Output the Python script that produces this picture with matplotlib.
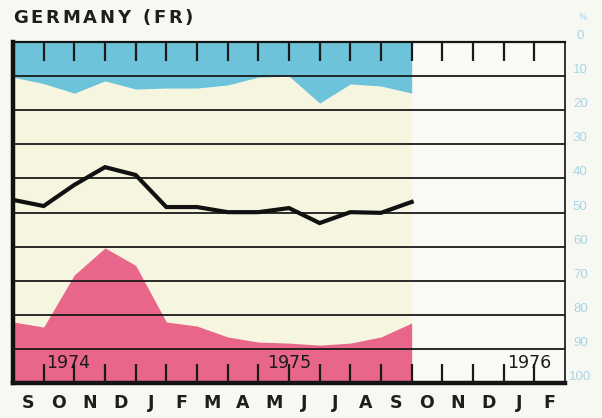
import matplotlib
matplotlib.use('Agg')
import matplotlib.pyplot as plt
import numpy as np

# ---- data ----
months = ['S', 'O', 'N', 'D', 'J', 'F', 'M', 'A', 'M', 'J', 'J', 'A', 'S', 'O', 'N', 'D', 'J', 'F']
years = ['1974', '1975', '1976']
year_pos = [1.08, 8.3, 16.12]
pct_ticks = [0, 10, 20, 30, 40, 50, 60, 70, 80, 90, 100]
pct_labels = [str(v) for v in pct_ticks]

# monthly values, Sep 1974 .. Sep 1975 boundaries (percent, 0 at top)
blue_edge = [10.3, 12.2, 15.0, 11.4, 13.8, 13.5, 13.5, 12.6, 10.3, 10.0, 17.9, 12.3, 12.9, 15.0]
balance = [46.3, 48.1, 41.9, 36.7, 39.0, 48.4, 48.4, 49.9, 49.9, 48.7, 53.1, 49.9, 50.1, 46.9]
red_edge = [82.1, 83.6, 68.3, 60.4, 65.5, 82.1, 83.3, 86.5, 88.0, 88.3, 88.9, 88.3, 86.5, 82.4]

plt.rcParams['font.family'] = ['DejaVu Sans']

W, H = 602, 418
fig = plt.figure(figsize=(W / 100, H / 100), dpi=100, facecolor='#f8f8f3')
ax = fig.add_axes([13 / W, 1 - 383 / H, 552 / W, 341 / H])
ax.set_facecolor('#f9f9f6')

x = np.arange(len(balance))
ax.set_xlim(0, len(months))
ax.set_ylim(100, 0)

ax.axvspan(x[0], x[-1], color='#f5f5e0', lw=0, zorder=0.5)
ax.fill_between(x, 0, blue_edge, color='#6cc3da', lw=0, zorder=1)
ax.fill_between(x, red_edge, 100, color='#e8668a', lw=0, zorder=1)
ax.plot(x, balance, color='#111111', lw=3.0, zorder=4, solid_joinstyle='miter')

# horizontal rules
ax.set_yticks(pct_ticks)
ax.set_yticklabels(pct_labels)
ax.yaxis.grid(True, color='#1a1a1a', lw=1.3)
ax.set_axisbelow(False)
ax.yaxis.tick_right()
ax.tick_params(axis='y', length=0, pad=11, labelsize=9.5, labelcolor='#a6d6e8')
plt.setp(ax.get_yticklabels(), ha='center', va='bottom', family='Liberation Sans')

# month ticks
ax.set_xticks(np.arange(1, len(months)))
ax.set_xticklabels([])
ax.set_xticks(np.arange(len(months)) + 0.5, minor=True)
ax.set_xticklabels(months, minor=True)
ax.tick_params(axis='x', which='major', top=True, bottom=True, direction='in',
               length=14, width=1.6, color='#1a1a1a')
ax.tick_params(axis='x', which='minor', length=0, pad=8, labelsize=12.5,
               labelcolor='#1e1e1e')
plt.setp(ax.get_xticklabels(minor=True), weight='bold')

for lab, xp in zip(years, year_pos):
    ax.text(xp, 94, lab, fontsize=12.5, color='#1a1a1a', ha='left', va='center', zorder=5)

for side, lw in [('left', 3.2), ('bottom', 3.2), ('top', 1.6), ('right', 1.2)]:
    ax.spines[side].set_linewidth(lw)
    ax.spines[side].set_color('#111111')

fig.text(583 / W, 1 - 18 / H, '%', fontsize=6.5, color='#a6d6e8', ha='center', va='center')

# letter-spaced title
title = 'GERMANY (FR)'
r = fig.canvas.get_renderer()
arts = []
widths = []
for ch in title:
    t = fig.text(0, 1 - 18 / H, ch if ch != ' ' else 'n', fontsize=13, weight='bold',
                 color='#1e1e1e', va='center', ha='left')
    widths.append(t.get_window_extent(r).width * (0.45 if ch == ' ' else 1.0))
    if ch == ' ':
        t.set_text(' ')
    arts.append(t)
x0, x1 = 13, 193
gap = (x1 - x0 - sum(widths)) / (len(title) - 1)
cur = x0
for t, w in zip(arts, widths):
    t.set_x(cur / W)
    cur += w + gap

fig.savefig('out.png', dpi=100, facecolor=fig.get_facecolor())
